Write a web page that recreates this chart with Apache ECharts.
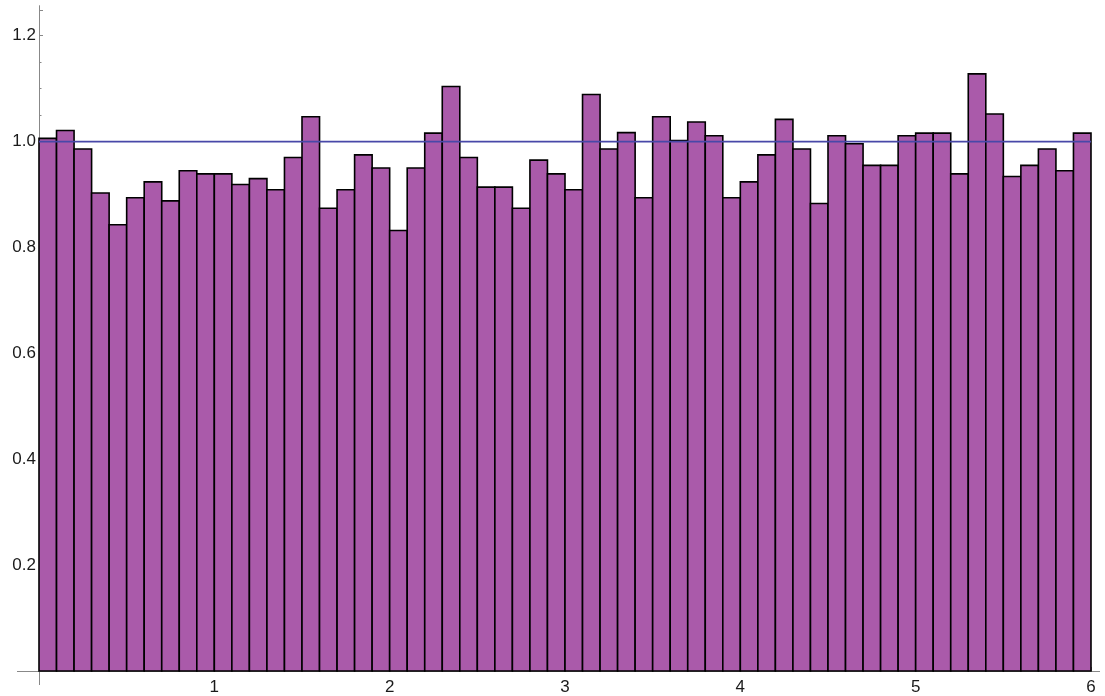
<!DOCTYPE html>
<html>
<head>
<meta charset="utf-8">
<script src="https://cdn.jsdelivr.net/npm/echarts@6/dist/echarts.min.js"></script>
<style>
html,body{margin:0;padding:0;background:#fff;}
#chart{width:1105px;height:696px;}
</style>
</head>
<body>
<div id="chart"></div>
<script>
// Histogram: 60 bins of width 0.1 from 0 to 6
var binStart = 0;
var binWidth = 0.1;
var heights = [
  1.006, 1.021, 0.986, 0.903, 0.843, 0.894, 0.924, 0.888, 0.945, 0.939,
  0.939, 0.919, 0.930, 0.909, 0.970, 1.047, 0.874, 0.909, 0.975, 0.950,
  0.832, 0.950, 1.016, 1.104, 0.970, 0.914, 0.914, 0.874, 0.965, 0.939,
  0.909, 1.089, 0.986, 1.017, 0.894, 1.047, 1.002, 1.037, 1.011, 0.894,
  0.924, 0.975, 1.042, 0.986, 0.883, 1.011, 0.996, 0.955, 0.955, 1.011,
  1.016, 1.016, 0.939, 1.128, 1.052, 0.934, 0.955, 0.986, 0.945, 1.016
];
var refLevel = 1.0;
var xTickLabels = ['1', '2', '3', '4', '5', '6'];
var yTickLabels = ['0.2', '0.4', '0.6', '0.8', '1.0', '1.2'];

var histData = heights.map(function (h, i) {
  var x0 = +(binStart + i * binWidth).toFixed(4);
  return [x0, +(x0 + binWidth).toFixed(4), h];
});

var chart = echarts.init(document.getElementById('chart'));
var labelFont = { fontFamily: 'Liberation Sans, Arial, sans-serif', fontSize: 17, color: '#1a1a1a' };

chart.setOption({
  animation: false,
  backgroundColor: '#ffffff',
  grid: { left: 39, right: 14, top: 10.3, bottom: 24.3, containLabel: false },
  xAxis: {
    type: 'value', min: 0, max: 6, interval: 1,
    axisLine: { show: true, onZero: false, lineStyle: { color: '#888888', width: 1 } },
    axisTick: { show: true, inside: true, length: 4, lineStyle: { color: '#888888' } },
    splitLine: { show: false },
    axisLabel: Object.assign({
      margin: 8,
      formatter: function (v) {
        var s = String(Math.round(v));
        return xTickLabels.indexOf(s) >= 0 ? s : '';
      }
    }, labelFont)
  },
  yAxis: {
    type: 'value', min: 0, max: 1.248, interval: 0.2,
    axisLine: { show: true, onZero: false, lineStyle: { color: '#888888', width: 1 } },
    axisTick: { show: true, inside: true, length: 4, lineStyle: { color: '#888888' } },
    minorTick: { show: true, splitNumber: 4, length: 2.5, lineStyle: { color: '#888888' } },
    splitLine: { show: false },
    axisLabel: Object.assign({
      margin: 3,
      showMaxLabel: false,
      formatter: function (v) {
        var s = v.toFixed(1);
        return yTickLabels.indexOf(s) >= 0 ? s : '';
      }
    }, labelFont)
  },
  series: [
    {
      type: 'custom',
      data: histData,
      encode: { x: [0, 1], y: 2 },
      renderItem: function (params, api) {
        var p0 = api.coord([api.value(0), 0]);
        var p1 = api.coord([api.value(1), api.value(2)]);
        return {
          type: 'rect',
          shape: { x: p0[0], y: p1[1], width: p1[0] - p0[0], height: p0[1] - p1[1] },
          style: { fill: '#AA5AAA', stroke: '#000000', lineWidth: 1.6 }
        };
      },
      z: 2
    },
    {
      type: 'line',
      data: [[0, refLevel], [6, refLevel]],
      symbol: 'none',
      lineStyle: { color: '#4848A8', width: 1.6 },
      z: 3
    }
  ]
});

// axis overhangs (Mathematica-style frame ends)
var o = chart.convertToPixel({ gridIndex: 0 }, [0, 0]);
var tr = chart.convertToPixel({ gridIndex: 0 }, [6, 1.248]);
chart.setOption({
  graphic: [
    { type: 'line', shape: { x1: o[0] - 22, y1: o[1] + 0.5, x2: tr[0] + 9, y2: o[1] + 0.5 }, style: { stroke: '#888888', lineWidth: 1 }, z: 1 },
    { type: 'line', shape: { x1: o[0] + 0.5, y1: tr[1] - 5, x2: o[0] + 0.5, y2: o[1] + 14 }, style: { stroke: '#888888', lineWidth: 1 }, z: 1 }
  ]
});
</script>
</body>
</html>
